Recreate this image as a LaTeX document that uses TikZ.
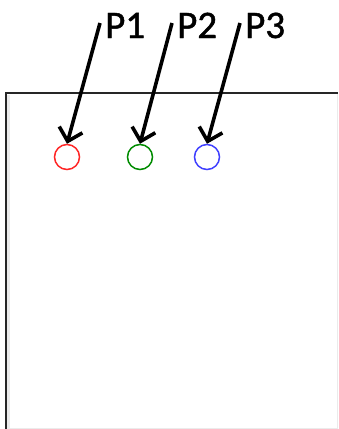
\documentclass[tikz,border=0pt]{standalone}
\usepackage{fontspec}
\setmainfont{Carlito}
\newfontfamily\labelfont[FakeBold=1.2]{Carlito}
\usetikzlibrary{arrows.meta}
\begin{document}
\begin{tikzpicture}[x=1pt,y=-1pt,
  lbl/.style={anchor=base west,inner sep=0pt,font=\labelfont\fontsize{39}{41}\selectfont},
  pt/.style={circle,draw,line width=1.5pt,minimum size=25pt,inner sep=0pt},
  pointer/.style={line width=3.6pt,-{Straight Barb[length=12pt,width=24pt,line width=3.6pt]}}]
  \useasboundingbox (0,0) rectangle (338,429);
  \fill[white] (0,0) rectangle (338,429);
  % panel outline: faint right and bottom edges, dark left and top edges
  \draw[black!8,line width=1.2pt] (337.5,93) -- (337.5,428.5) -- (6,428.5);
  \draw[black!8,line width=2.5pt] (8.5,95) -- (8.5,428);
  \draw[black!85,line width=1.8pt] (6,429) -- (6,93) -- (338,93);
  % points
  \node[pt,draw=red!85!white] (c1) at (67,157) {};
  \node[pt,draw=green!55!black] (c2) at (140,157) {};
  \node[pt,draw=blue!75!white] (c3) at (207,157) {};
  % labels
  \node[lbl] (l1) at (105,38) {P1};
  \node[lbl] (l2) at (177,38) {P2};
  \node[lbl] (l3) at (245,38) {P3};
  % pointers
  \coordinate (s1) at (100,23);
  \coordinate (s2) at (172,23);
  \coordinate (s3) at (240,23);
  \draw[pointer] (s1) -- (c1.north);
  \draw[pointer] (s2) -- (c2.north);
  \draw[pointer] (s3) -- (c3.north);
\end{tikzpicture}
\end{document}
